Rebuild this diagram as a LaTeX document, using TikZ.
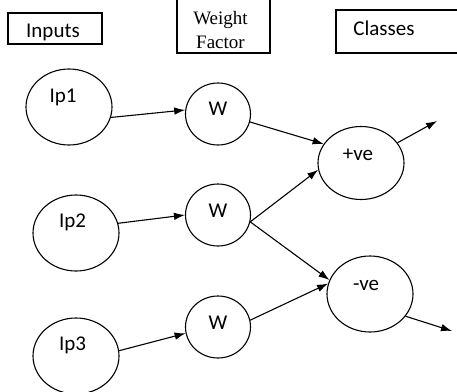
\documentclass[tikz,border=0pt]{standalone}
\usepackage{fontspec}
\setmainfont{Liberation Serif}
\newfontfamily\calfont{Carlito}
\usetikzlibrary{shapes.geometric,arrows.meta,positioning}

\begin{document}
\begin{tikzpicture}[x=1pt,y=-1pt,
box/.style={draw,line width=1.3pt,rectangle,inner sep=0pt},
unit/.style={draw,line width=1.1pt,ellipse,inner sep=0pt},
txt/.style={font=\calfont\fontsize{21}{24}\selectfont},
serif/.style={font=\fontsize{19}{24}\selectfont,align=center},
arr/.style={line width=1.1pt,-{Latex[length=11pt,width=7.5pt]}}]
\clip (0,0) rectangle (457,391);

% headings
\node[box,minimum width=94pt,minimum height=31pt,label={[txt,xshift=-2pt,yshift=-3.5pt]center:Inputs}](inputs) at (55,28.5){};
\node[box,minimum width=93pt,minimum height=63pt,label={[serif,xshift=-3pt,yshift=-8.5pt]center:Weight\\Factor}](weight) at (223.5,21.5){};
\node[box,minimum width=126pt,minimum height=43pt,label={[txt,xshift=-15pt,yshift=3pt]center:Classes}](classes) at (399,31.5){};

% inputs
\node[unit,minimum width=86pt,minimum height=76pt,label={[txt,xshift=-6pt,yshift=10pt]center:Ip1}](ip1) at (69,107){};
\node[unit,minimum width=86pt,minimum height=76pt,label={[txt,xshift=-3.5pt,yshift=11pt]center:Ip2}](ip2) at (76,233){};
\node[unit,minimum width=86pt,minimum height=76pt,label={[txt,xshift=-3.5pt,yshift=11pt]center:Ip3}](ip3) at (76,356){};

% weights
\node[unit,minimum width=65pt,minimum height=62pt,label={[txt,yshift=5pt]center:W}](w1) at (218,114){};
\node[unit,minimum width=65pt,minimum height=62pt,label={[txt,yshift=4pt]center:W}](w2) at (218,215){};
\node[unit,minimum width=65pt,minimum height=62pt,label={[txt,yshift=4.5pt]center:W}](w3) at (218,327){};

% classes
\node[unit,minimum width=86pt,minimum height=73pt,label={[txt,xshift=-3pt,yshift=8pt]center:+ve}](pos) at (361,163){};
\node[unit,minimum width=86pt,minimum height=76pt,label={[txt,xshift=-4pt,yshift=9pt]center:-ve}](neg) at (370,294){};

\coordinate (posout) at (437,121);
\coordinate (negout) at (452,331);

\draw[arr] (ip1.-14) -- (w1.173);
\draw[arr] (ip2.13) -- (w2.180);
\draw[arr] (ip3.7) -- (w3.-169);
\draw[arr] (w1.-14) -- (pos.153);
\draw[arr] (w2.-12) -- (pos.-171);
\draw[arr] (w2.-12) -- (neg.161);
\draw[arr] (w3.12) -- (neg.166);
\draw[arr] (pos.29) -- (posout);
\draw[arr] (neg.-32) -- (negout);
\end{tikzpicture}
\end{document}
